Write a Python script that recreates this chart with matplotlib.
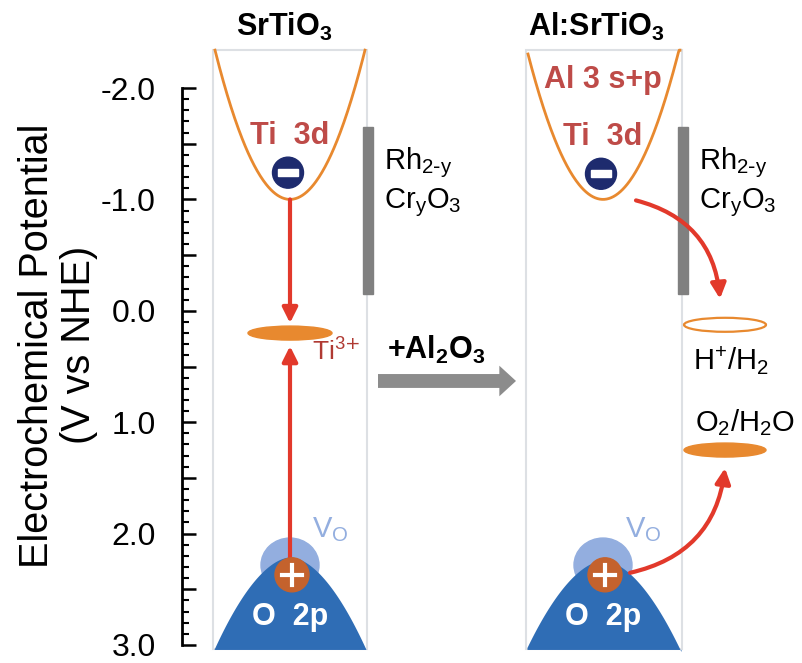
import numpy as np
import matplotlib
matplotlib.use("Agg")
import matplotlib.pyplot as plt
from matplotlib.patches import Ellipse, Rectangle

plt.rcParams['font.family'] = ['Liberation Sans', 'DejaVu Sans']

# potentials (V vs NHE)
panel_names = ["SrTiO$_\\mathregular{3}$", "Al:SrTiO$_\\mathregular{3}$"]
panel_x = [290, 603]          # panel centres (horizontal layout units)
panel_left = [213, 526]
panel_right = [367, 682]
panel_top = -2.34
panel_bottom = 3.04
cb_min = [-1.0, -1.0]
vb_max = [2.21, 2.24]
vo_top = [2.04, 2.04]
hole_v = [2.37, 2.37]
electron_v = [-1.24, -1.23]
ti3_level = 0.2
h2_level = 0.0
o2_level = 1.25
cocat_range = (-1.65, -0.15)

ORANGE = "#E8892F"
BLUE = "#2F6DB5"
LIGHTBLUE = "#93AEDF"
HOLE = "#C4622D"
NAVY = "#1E2B6E"
RED = "#E2392B"
REDTXT = "#BE4B48"
GRAY = "#808080"

px_per_v = 111.4
fig = plt.figure(figsize=(8.02, 6.63), dpi=100)
ax = fig.add_axes([0, 0, 1, 1])
ax.set_xlim(0, 802)
ax.set_ylim(-2 + (663 - 88) / px_per_v, -2 - 88 / px_per_v)

def r_v(px):
    return px / px_per_v

# axis
for s in ["top", "right", "bottom"]:
    ax.spines[s].set_visible(False)
ax.spines["left"].set_position(("data", 182))
ax.spines["left"].set_bounds(-2, 3)
ax.spines["left"].set_linewidth(2)
major = np.arange(-2, 3.01, 0.5)
ax.set_yticks(major)
ax.set_yticks(np.arange(-2, 3.01, 0.1), minor=True)
ax.set_yticklabels(["%.1f" % v if abs(v - round(v)) < 1e-6 else "" for v in major])
ax.tick_params(axis="y", which="major", direction="in", length=10, width=1.8,
               labelsize=23, pad=19, left=True, right=False)
ax.tick_params(axis="y", which="minor", direction="in", length=5, width=1.5, left=True, right=False)
ax.set_xticks([])
ax.text(58, 0.31, "Electrochemical Potential\n(V vs NHE)", rotation=90, fontsize=28.5,
        ha="center", va="center", linespacing=1.15)

for i in range(2):
    xc = panel_x[i]
    L, R = panel_left[i], panel_right[i]
    # panel frame
    ax.add_patch(Rectangle((L, panel_top), R - L, panel_bottom - panel_top, fill=False,
                           ec="#DDE0E4", lw=1.5, zorder=1))
    ax.text((L + R) / 2 + (-6 if i == 0 else -7), -2.55, panel_names[i], fontsize=22,
            fontweight="bold", ha="center", va="center")
    # conduction band
    xs = np.linspace(L + 2, R - 2, 200)
    half = (R - L - 4) / 2
    ys = cb_min[i] + (panel_top - cb_min[i]) * ((xs - xc) / half) ** 2
    ys = np.maximum(ys, panel_top)
    ax.plot(xs, ys, color=ORANGE, lw=2, zorder=3)
    # valence band
    xv = np.linspace(L + 1, R - 1, 200)
    hv = (R - L - 2) / 2
    yv = vb_max[i] + (panel_bottom - vb_max[i]) * np.abs((xv - xc) / hv) ** 1.8
    ax.add_patch(Ellipse((xc, vo_top[i] + r_v(27)), 58, r_v(54), color=LIGHTBLUE, zorder=2))
    ax.fill_between(xv, yv, panel_bottom, color=BLUE, lw=0, zorder=3)
    # hole
    hx = xc + 2
    ax.add_patch(Ellipse((hx, hole_v[i]), 34, r_v(34), color=HOLE, zorder=5))
    ax.plot([hx - 10, hx + 10], [hole_v[i]] * 2, color="white", lw=3, zorder=6)
    ax.plot([hx, hx], [hole_v[i] - r_v(10), hole_v[i] + r_v(10)], color="white", lw=3, zorder=6)
    ax.text(xc, hole_v[i] + r_v(42), "O  2p", color="white", fontsize=22, fontweight="bold",
            ha="center", va="center", zorder=6)
    ax.text(xc + 40, vo_top[i] - r_v(8), "V$_\\mathregular{O}$", color=LIGHTBLUE, fontsize=21,
            ha="center", va="center")
    # electron
    ex = xc - 2
    ax.add_patch(Ellipse((ex, electron_v[i]), 31, r_v(31), color=NAVY, zorder=5))
    ax.add_patch(Rectangle((ex - 10, electron_v[i] - r_v(3.5)), 20, r_v(7), color="white", zorder=6))
    ax.text(xc, electron_v[i] - r_v(37), "Ti  3d", color=REDTXT, fontsize=22, fontweight="bold",
            ha="center", va="center")
    # cocatalyst bar
    bx = R + 1
    ax.add_patch(Rectangle((bx - 5, cocat_range[0]), 10, cocat_range[1] - cocat_range[0],
                           color=GRAY, zorder=4))
    ax.text(bx + 16, -1.33, "Rh$_\\mathregular{2\\text{-}y}$", fontsize=21, ha="left", va="center")
    ax.text(bx + 16, -0.97, "Cr$_\\mathregular{y}$O$_\\mathregular{3}$", fontsize=21, ha="left", va="center")

# Al 3s+p band label
ax.text(panel_x[1], -2.07, "Al 3 s+p", color=REDTXT, fontsize=22, fontweight="bold",
        ha="center", va="center")

# left panel: Ti3+ trap
ax.add_patch(Ellipse((panel_x[0], ti3_level), 84, r_v(14), color=ORANGE, zorder=4))
ax.text(336, ti3_level + r_v(18), "Ti$^{\\mathregular{3\\text{+}}}$", color="#B03A33", fontsize=19,
        ha="center", va="center")
ax.annotate("", xy=(panel_x[0], ti3_level - r_v(10)), xytext=(panel_x[0], cb_min[0]),
            arrowprops=dict(arrowstyle="-|>,head_width=0.45,head_length=0.9", color=RED, lw=3,
                            shrinkA=0, shrinkB=0), zorder=4)
ax.annotate("", xy=(panel_x[0], ti3_level + r_v(13)), xytext=(panel_x[0], hole_v[0] - r_v(12)),
            arrowprops=dict(arrowstyle="-|>,head_width=0.45,head_length=0.9", color=RED, lw=3,
                            shrinkA=0, shrinkB=0), zorder=4)

# Al2O3 arrow
ax.annotate("", xy=(516, 0.63), xytext=(378, 0.63),
            arrowprops=dict(arrowstyle="simple,head_width=2.2,head_length=1.2,tail_width=1.0",
                            color="#8C8C8C", lw=0, shrinkA=0, shrinkB=0))
ax.text(436, 0.35, "+Al$_\\mathregular{2}$O$_\\mathregular{3}$", fontsize=22, fontweight="bold",
        ha="center", va="center")

# right panel: redox levels
ax.add_patch(Ellipse((725, h2_level + r_v(14)), 82, r_v(14), fill=False, ec=ORANGE, lw=1.6, zorder=4))
ax.text(731, h2_level + r_v(50), "H$^{\\mathregular{+}}$/H$_\\mathregular{2}$", fontsize=21,
        ha="center", va="center")
ax.add_patch(Ellipse((725, o2_level), 82, r_v(14), color=ORANGE, zorder=4))
ax.text(745, o2_level - r_v(27), "O$_\\mathregular{2}$/H$_\\mathregular{2}$O", fontsize=21,
        ha="center", va="center")
ax.annotate("", xy=(720, h2_level - r_v(12)), xytext=(636, cb_min[1] + r_v(1)),
            arrowprops=dict(arrowstyle="-|>,head_width=0.45,head_length=0.9", color=RED, lw=3,
                            shrinkA=0, shrinkB=0, connectionstyle="arc3,rad=-0.35"), zorder=5)
ax.annotate("", xy=(725, o2_level + r_v(18)), xytext=(630, hole_v[1] - r_v(2)),
            arrowprops=dict(arrowstyle="-|>,head_width=0.45,head_length=0.9", color=RED, lw=3,
                            shrinkA=0, shrinkB=0, connectionstyle="arc3,rad=0.35"), zorder=5)

fig.savefig("out.png", dpi=100)
